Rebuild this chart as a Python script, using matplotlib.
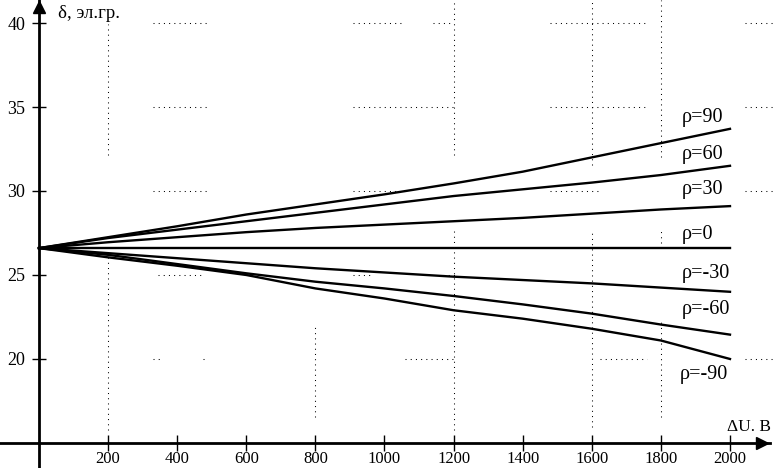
import numpy as np
import matplotlib
matplotlib.use("Agg")
import matplotlib.pyplot as plt

plt.rcParams['font.family'] = ['Liberation Serif', 'DejaVu Serif']

# data
du = [0, 200, 400, 600, 800, 1000, 1200, 1400, 1600, 1800, 2000]
rho_90 = [26.6, 27.25, 27.9, 28.6, 29.2, 29.8, 30.45, 31.15, 32.0, 32.85, 33.7]
rho_60 = [26.6, 27.2, 27.7, 28.2, 28.7, 29.2, 29.7, 30.1, 30.5, 30.95, 31.5]
rho_30 = [26.6, 26.95, 27.25, 27.55, 27.8, 28.0, 28.2, 28.4, 28.65, 28.9, 29.1]
rho_0 = [26.6, 26.6, 26.6, 26.6, 26.6, 26.6, 26.6, 26.6, 26.6, 26.6, 26.6]
rho_m30 = [26.6, 26.3, 26.0, 25.7, 25.4, 25.15, 24.9, 24.7, 24.5, 24.25, 24.0]
rho_m60 = [26.6, 26.2, 25.65, 25.1, 24.6, 24.2, 23.75, 23.25, 22.7, 22.05, 21.45]
rho_m90 = [26.6, 26.05, 25.55, 25.0, 24.2, 23.6, 22.9, 22.4, 21.8, 21.1, 20.0]

series = [rho_90, rho_60, rho_30, rho_0, rho_m30, rho_m60, rho_m90]
labels = ["ρ=90", "ρ=60", "ρ=30", "ρ=0", "ρ=-30", "ρ=-60", "ρ=-90"]
label_y = [34.35, 32.2, 30.09, 27.41, 25.06, 22.95, 19.08]
label_x = [1861, 1861, 1861, 1861, 1861, 1861, 1855]

xticks = [200, 400, 600, 800, 1000, 1200, 1400, 1600, 1800, 2000]
yticks = [20, 25, 30, 35, 40]

# broken dotted grid pieces (value, start, end)
hgrid = [(40, 330, 489), (40, 909, 1059), (40, 1140, 1198), (40, 1479, 1760), (40, 2043, 2127),
         (35, 330, 489), (35, 909, 1198), (35, 1479, 1760), (35, 2043, 2127),
         (30, 330, 489), (30, 909, 1045), (30, 1479, 1624), (30, 2043, 2127),
         (25, 344, 478), (25, 909, 958), (25, 1169, 1210),
         (20, 330, 350), (20, 475, 489), (20, 1059, 1198), (20, 1624, 1760), (20, 2043, 2127)]
vgrid = [(200, 32.14, 39.94), (200, 15.77, 26.67),
         (800, 16.55, 21.9),
         (1200, 32.14, 41.37), (1200, 15.77, 27.68),
         (1600, 31.55, 41.37), (1600, 15.95, 27.68),
         (1800, 32.02, 41.37), (1800, 26.9, 27.68), (1800, 16.55, 22.32)]

fig = plt.figure(figsize=(7.74, 4.68), dpi=100)
ax = fig.add_axes([0, 0, 770 / 774, 1])
ax.set_xlim(-112.9, 2115.8)
ax.set_ylim(13.51, 41.37)

for v, a, b in hgrid:
    ax.plot([a, b], [v, v], color='black', lw=0.75, ls=(0, (1, 4)), clip_on=False)
for v, a, b in vgrid:
    ax.plot([v, v], [a, b], color='black', lw=0.75, ls=(0, (1, 4)))

for s, lab, lx, ly in zip(series, labels, label_x, label_y):
    ax.plot(du, s, color='black', lw=1.7)
    ax.text(lx, ly, lab, fontsize=14.5, va='center', ha='left')

# axes through origin with arrows
ax.spines['top'].set_visible(False)
ax.spines['right'].set_visible(False)
ax.spines['left'].set_position(('data', 0))
ax.spines['bottom'].set_position(('data', 15))
ax.spines['left'].set_linewidth(2)
ax.spines['bottom'].set_linewidth(2)
ax.plot([0], [0.985], marker='^', ms=8, color='black', transform=ax.get_xaxis_transform(), clip_on=False)
ax.plot([0.99], [15], marker='>', ms=8, color='black', transform=ax.get_yaxis_transform(), clip_on=False)

ax.set_xticks(xticks)
ax.set_xticklabels([str(t) for t in xticks])
ax.set_xticks([400, 600, 1000, 1400, 2000], minor=True)
ax.set_yticks(yticks)
ax.set_yticklabels([str(t) for t in yticks])
ax.tick_params(axis='x', which='major', direction='inout', length=11, width=1, labelsize=12, pad=0.5)
ax.tick_params(axis='x', which='minor', direction='inout', length=11, width=2.2)
ax.tick_params(axis='y', direction='inout', length=10, width=1, labelsize=13, pad=5)

ax.text(55, 40.54, "δ, эл.гр.", fontsize=13.5, va='center', ha='left')
ax.text(1991, 15.95, "ΔU. В", fontsize=12.5, va='center', ha='left')

fig.savefig("out.png", dpi=100)
